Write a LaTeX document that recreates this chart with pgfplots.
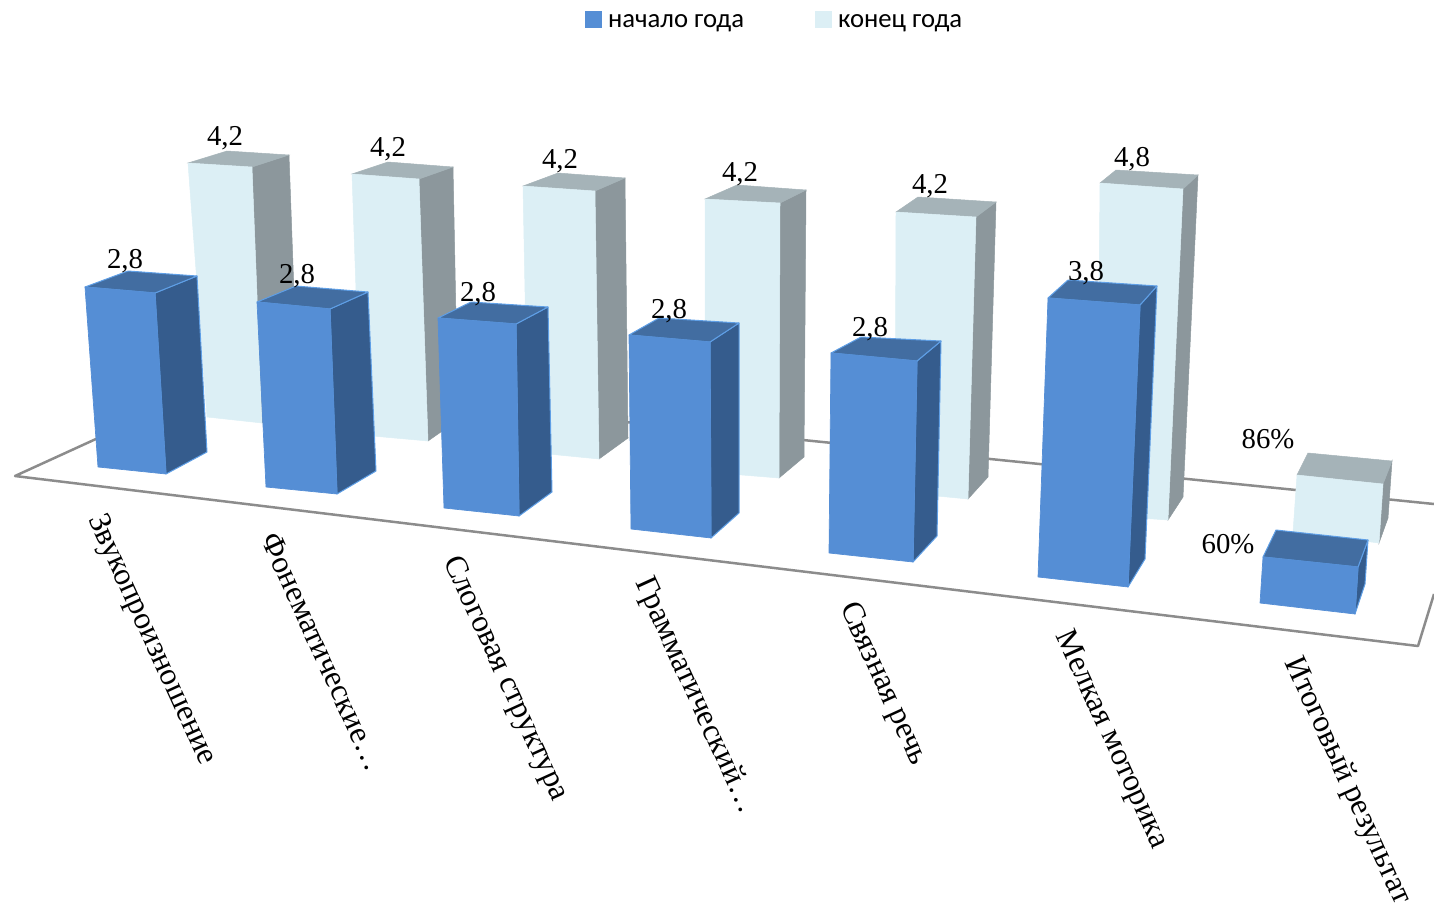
\documentclass[border=0pt]{standalone}
\usepackage{fontspec}
\setmainfont{Liberation Serif}
\newfontfamily\legendfont{Carlito}
\usepackage{pgfplots}
\pgfplotsset{compat=1.18}
\definecolor{bluefront}{HTML}{558ED5}
\definecolor{blueside}{HTML}{355C8D}
\definecolor{bluetop}{HTML}{426DA1}
\definecolor{blueedge}{HTML}{5F9FE6}
\definecolor{lightfront}{HTML}{DCEFF5}
\definecolor{lightside}{HTML}{8C979C}
\definecolor{lighttop}{HTML}{A5B3B8}
\definecolor{floorline}{HTML}{8C8C8C}
\newcommand\pct{\%}
% one 3d box: front TL, TR, BR, BL, back L, back R, side bottom; faces are read in image pixels
\newcommand\lightbar[7]{%
  \addplot[forget plot,fill=lightside,draw=lightside,line width=.5pt] coordinates {(#2) (#6) (#7) (#3)} --cycle;
  \addplot[forget plot,fill=lighttop,draw=lighttop,line width=.5pt] coordinates {(#1) (#5) (#6) (#2)} --cycle;
  \addplot[forget plot,fill=lightfront,draw=lightfront,line width=.5pt] coordinates {(#1) (#2) (#3) (#4)} --cycle;
}
\newcommand\bluebar[7]{%
  \addplot[forget plot,fill=blueside,draw=blueedge,line width=1pt,line join=round] coordinates {(#2) (#6) (#7) (#3)} --cycle;
  \addplot[forget plot,fill=bluetop,draw=blueedge,line width=1pt,line join=round] coordinates {(#1) (#5) (#6) (#2)} --cycle;
  \addplot[forget plot,fill=bluefront,draw=bluefront,line width=.7pt,line join=round] coordinates {(#1) (#2) (#3) (#4)} --cycle;
}
\begin{document}
\begin{tikzpicture}
\begin{axis}[
  scale only axis,
  width=1434pt, height=910pt,
  xmin=0, xmax=1434, ymin=0, ymax=910,
  y dir=reverse,
  hide axis,
  legend columns=2,
  legend style={draw=none,fill=none,at={(axis cs:585,21)},anchor=west,inner sep=0pt,outer sep=0pt,
    font=\legendfont\fontsize{26.7}{28}\selectfont,
    /tikz/every even column/.append style={column sep=69pt}},
  legend cell align=left,
]
\addlegendimage{legend image code/.code={\path[draw=none,fill=none] (0pt,0pt) -- (21pt,0pt);\fill[bluefront,draw=none] (0pt,-5.5pt) rectangle (17pt,11.5pt);}}
\addlegendentry{начало года}
\addlegendimage{legend image code/.code={\path[draw=none,fill=none] (0pt,0pt) -- (21pt,0pt);\fill[lightfront,draw=none] (0pt,-5.5pt) rectangle (17pt,11.5pt);}}
\addlegendentry{конец года}

% keeps the page at the full axis size
\path (rel axis cs:0,0) rectangle (rel axis cs:1,1);

% floor
\addplot[forget plot,draw=floorline,line width=2.5pt,line join=round] coordinates {(1434,594) (1418,646) (15,476) (120,428)};
\addplot[forget plot,draw=floorline,line width=2.5pt] coordinates {(300,389) (1434,504)};

% конец года
\lightbar{188,163}{252,167}{262,423}{207,417}{227,151}{289,155}{298,403}
\lightbar{352,174}{419,179}{428,441}{361,435}{388,162}{453,167}{458,420}
\lightbar{523,186}{595,191}{599,459}{528,452}{558,173}{625,178}{628,438}
\lightbar{705,199}{780,203}{779,478}{705,472}{737,185}{806,190}{804,457}
\lightbar{896,212}{976,217}{968,499}{895,492}{918,197}{996,202}{988,477}
\lightbar{1100,183}{1183,189}{1168,520}{1097,515}{1116,170}{1198,175}{1183,497}
\lightbar{1297,475}{1383,484}{1379,543}{1293,532}{1308,453}{1392,461}{1388,518}

% начало года
\bluebar{85,287}{155,293}{166,474}{98,467}{128,271}{197,276}{207,452}
\bluebar{257,302}{330,309}{337,494}{266,487}{296,286}{368,292}{376,471}
\bluebar{438,318}{516,324}{519,516}{444,508}{471,302}{548,307}{552,492}
\bluebar{629,335}{710,342}{711,538}{631,529}{659,318}{739,323}{739,513}
\bluebar{831,353}{917,361}{913,562}{829,553}{861,337}{941,341}{937,536}
\bluebar{1048,298}{1140,305}{1128,587}{1038,577}{1068,280}{1157,286}{1145,559}
\bluebar{1263,557}{1358,567}{1355,614}{1260,603}{1276,530}{1368,540}{1365,584}

% data labels
\addplot[forget plot,draw=none,mark=none,point meta=explicit symbolic,nodes near coords,
  nodes near coords style={anchor=base,inner sep=0pt,font=\fontsize{28.8}{30}\selectfont,text=black}]
  table[x=x,y=y,meta=label] {
x y label
225 145 4,2
388 156 4,2
560 168 4,2
740 181 4,2
930 193 4,2
1132 166 4,8
1268 448 86\pct
125 268 2,8
297 283 2,8
478 301 2,8
669 318 2,8
870 336 2,8
1086 280 3,8
1228 553 60\pct
};

% category labels
\tikzset{cat/.style={rotate=-65.5,inner sep=0pt,anchor=center,font=\fontsize{31.6}{33}\selectfont}}
\node[cat] at (axis cs:151,640) {Звукопроизношение};
\node[cat] at (axis cs:323,652) {Фонематические…};
\node[cat] at (axis cs:505,679) {Слоговая структура};
\node[cat] at (axis cs:695,696) {Грамматический…};
\node[cat] at (axis cs:883,684) {Связная речь};
\node[cat] at (axis cs:1111,740) {Мелкая моторика};
\node[cat] at (axis cs:1347,781) {Итоговый результат};
\end{axis}
\end{tikzpicture}
\end{document}
